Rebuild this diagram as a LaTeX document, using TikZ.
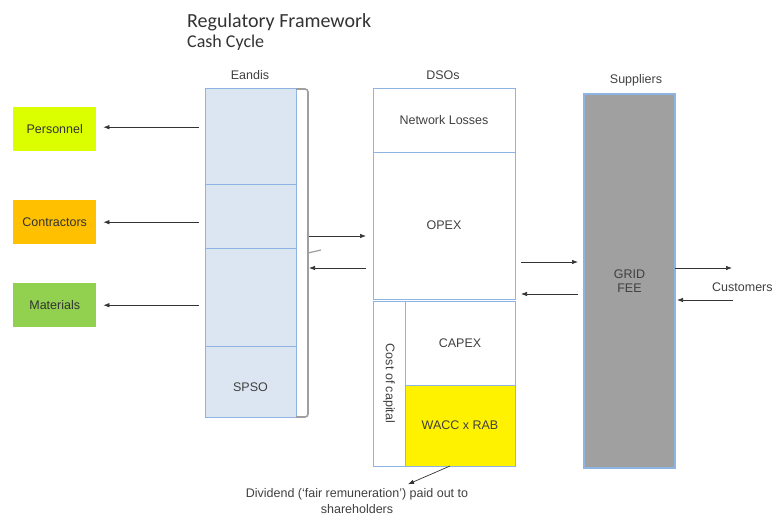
\documentclass[tikz,border=0pt]{standalone}
\usepackage{fontspec}
\setmainfont{Liberation Sans}
\newfontfamily\titlefont{Carlito}
\usepackage{tikz}
\usetikzlibrary{positioning,arrows.meta}
\definecolor{boxblue}{RGB}{141,180,226}
\definecolor{paleblue}{RGB}{220,230,242}
\definecolor{persgreen}{RGB}{220,255,0}
\definecolor{controrange}{RGB}{255,192,0}
\definecolor{matgreen}{RGB}{146,208,80}
\definecolor{gridgray}{RGB}{160,160,160}
\definecolor{textgray}{RGB}{64,64,64}

\begin{document}
\begin{tikzpicture}[x=1pt,y=-1pt,
	cell/.style={draw=boxblue,line width=1pt,inner sep=0pt,outer sep=0pt,text=textgray,font=\fontsize{12.5}{14}\selectfont},
	tag/.style={inner sep=0pt,text=textgray,font=\fontsize{12.5}{16}\selectfont},
	cost/.style={minimum width=83pt,minimum height=44pt,inner sep=0pt,text=black!80,font=\fontsize{12.5}{14}\selectfont},
	flow/.style={-{Latex[length=6pt,width=4.5pt]},line width=0.7pt,black!80},
	brace/.style={gray!75,line width=1.6pt}]
	\useasboundingbox (0,0) rectangle (776,516);
	\node[anchor=base west,inner sep=0pt,text=black!80,font=\titlefont\fontsize{20}{24}\selectfont] (title) at (187,28) {Regulatory Framework};
	\node[anchor=base west,inner sep=0pt,text=black!80,font=\titlefont\fontsize{18}{22}\selectfont] (sub) at (187,48) {Cash Cycle};
	\node[tag,anchor=base] (eandislbl) at (250,80) {Eandis};
	\node[tag,anchor=base] (dsolbl) at (443,80) {DSOs};
	\node[tag,anchor=base] (suplbl) at (636,84) {Suppliers};

	\node[cell,fill=paleblue,minimum width=91pt,minimum height=95pt,anchor=north west] (e1) at (205,89) {};
	\node[cell,fill=paleblue,minimum width=91pt,minimum height=64pt,below=0pt of e1] (e2) {};
	\node[cell,fill=paleblue,minimum width=91pt,minimum height=98pt,below=0pt of e2] (e3) {};
	\node[cell,fill=paleblue,minimum width=91pt,minimum height=71pt,below=0pt of e3] (spso) {};
	\node[tag] (spsotxt) at ([yshift=-6pt]spso.center) {SPSO};
	\draw[brace,rounded corners=3pt] (e1.north east) -| (308,253);
	\draw[brace,rounded corners=3pt] (308,251) |- (spso.south east);
	\draw[brace,line width=1.2pt] (308,253) -- (321,250);
	\coordinate (brace) at (309,252);

	\node[cost,fill=persgreen,anchor=north west] (pers) at (13,107) {Personnel};
	\node[cost,fill=controrange,anchor=north west] (contr) at (13,200) {Contractors};
	\node[cost,fill=matgreen,anchor=north west] (mat) at (13,283) {Materials};
	\draw[flow,shorten <=6pt,shorten >=7pt] ([yshift=2pt]pers.east -| e1.west) -- ([yshift=2pt]pers.east);
	\draw[flow,shorten <=6pt,shorten >=7pt] (contr.east -| e1.west) -- (contr.east);
	\draw[flow,shorten <=6pt,shorten >=7pt] (mat.east -| e1.west) -- (mat.east);

	\node[cell,minimum width=142pt,minimum height=63pt,anchor=north west] (loss) at (373,89) {Network Losses};
	\node[cell,minimum width=142pt,minimum height=147pt,below=0pt of loss] (opex) {OPEX};
	\node[cell,minimum width=32pt,minimum height=165pt,anchor=north west] (coc) at (373,301) {};
	\node[tag,rotate=-90] (coctxt) at (coc.center) {Cost of capital};
	\node[cell,minimum width=110pt,minimum height=84pt,anchor=north west] (capex) at (405,301) {CAPEX};
	\node[cell,fill=yellow,minimum width=110pt,minimum height=81pt,below=0pt of capex] (wacc) {WACC x RAB};
	\coordinate (bt) at ([yshift=16pt]brace);
	\coordinate (bb) at ([yshift=-16pt]brace);
	\draw[flow,shorten >=7pt] (bt) -- (bt -| opex.west);
	\draw[flow,shorten <=7pt] (bb -| opex.west) -- (bb);

	\node[tag,align=center] (div) at (357,501) {Dividend (‘fair remuneration’) paid out to\\shareholders};
	\draw[flow] ([xshift=-10pt]wacc.south) -- ([xshift=51pt,yshift=4pt]div.north);

	\node[cell,fill=gridgray,line width=1.3pt,minimum width=91pt,minimum height=374pt,anchor=north west,align=center,text=black!75] (grid) at (584,94) {GRID\\FEE};
	\coordinate (fo) at ([yshift=-36.5pt]opex.east);
	\coordinate (fb) at ([yshift=-68.5pt]opex.east);
	\draw[flow,shorten <=6pt,shorten >=6pt] (fo) -- (fo -| grid.west);
	\draw[flow,shorten <=6pt,shorten >=6pt] (fb -| grid.west) -- (fb);

	\node[tag,anchor=west] (cust) at (712,287) {Customers};
	\coordinate (co) at ([yshift=13pt]grid.east);
	\coordinate (ci) at ([yshift=-19pt]grid.east);
	\draw[flow] (co) -- ++(57,0);
	\draw[flow,shorten >=2pt] ([xshift=58pt]ci) -- (ci);
\end{tikzpicture}
\end{document}
